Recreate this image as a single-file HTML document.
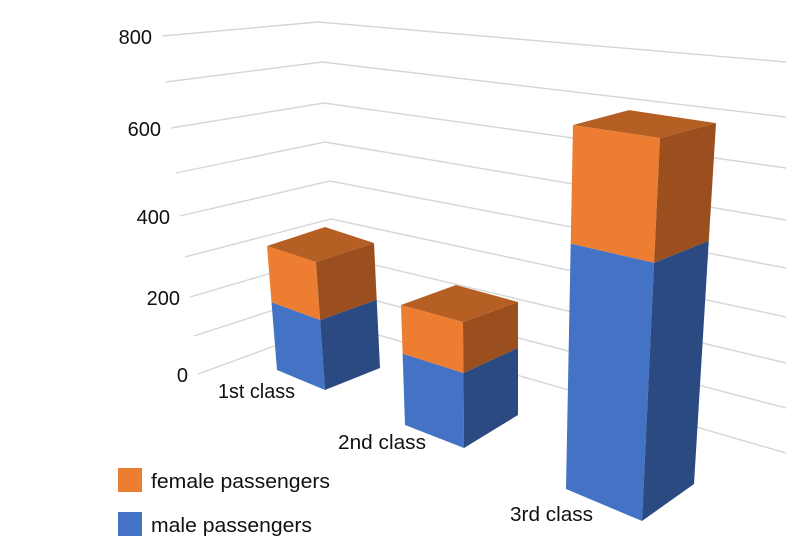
<!DOCTYPE html>
<html><head><meta charset="utf-8"><style>
html,body{margin:0;padding:0;background:#fff;}
svg{display:block;font-family:"Liberation Sans",sans-serif;}
</style></head><body>
<svg id="chart" width="786" height="552" viewBox="0 0 786 552" xmlns="http://www.w3.org/2000/svg">
<g id="grid"></g>
<g id="ylabels"></g>
<g id="bars"></g>
<g id="xlabels"></g>
<g>
<rect x="118" y="468" width="24" height="24" fill="#ED7D31"/>
<text x="151" y="488" font-size="20" fill="#111" textLength="179" lengthAdjust="spacingAndGlyphs">female passengers</text>
<rect x="118" y="512" width="24" height="24" fill="#4472C4"/>
<text x="151" y="532" font-size="20" fill="#111" textLength="161" lengthAdjust="spacingAndGlyphs">male passengers</text>
</g>
</svg>
<script>
const categories = ["1st class", "2nd class", "3rd class"];
const maleValues = [175, 163, 478];
const femaleValues = [145, 111, 231];
const tickValues = [0, 100, 200, 300, 400, 500, 600, 700, 800];
const tickLabels = ["0", "", "200", "", "400", "", "600", "", "800"];

const NS = "http://www.w3.org/2000/svg";
// geometry for the perspective axis (tick index -> wall points)
const gridLeftX = [198,194,190,185,180,176,171,166,162];
const gridLeftY = [374,336,297,257,216,173,128,82,36];
const gridCornerX = [337,335,333,331,330,325,324,322,318];
const gridCornerY = [323,290,255,219,181,142,103,62,22];
const gridRightY = [453,408,363,317,268,220,168,117,62];
function tickIndex(v){ return tickValues.indexOf(v); }

const grid = document.getElementById('grid');
const ylab = document.getElementById('ylabels');
tickValues.forEach(v => {
  const i = tickIndex(v);
  const pl = document.createElementNS(NS,'polyline');
  
  
  pl.setAttribute('points', `${gridLeftX[i]},${gridLeftY[i]} ${gridCornerX[i]},${gridCornerY[i]} 786,${gridRightY[i]}`);
  pl.setAttribute('fill','none'); pl.setAttribute('stroke','#d6d6d6'); pl.setAttribute('stroke-width','1.4');
  grid.appendChild(pl);
  if (tickLabels[i]) {
    const t = document.createElementNS(NS,'text');
    
    
    t.setAttribute('x', gridLeftX[i] - 10); t.setAttribute('y', gridLeftY[i] + 8);
    t.setAttribute('text-anchor','end'); t.setAttribute('font-size','20'); t.setAttribute('fill','#111');
    t.textContent = tickLabels[i];
    ylab.appendChild(t);
  }
});

// bar geometry: for each edge (front-left, front-right, back-right): base point and per-unit vector
const barEdges = [
  {fl:[277,370,-0.03125,-0.3875], fr:[325,390,-0.0281,-0.4], br:[380,368,-0.01875,-0.3906]},
  {fl:[405,425,-0.0146,-0.438], fr:[464,448,-0.00365,-0.46], br:[518,415,0,-0.4124]},
  {fl:[566,489,0.00987,-0.5134], fr:[642,521,0.02539,-0.5402], br:[694,484,0.031,-0.509]}
];
function edgePt(e, v){ return [e[0]+e[2]*v, e[1]+e[3]*v]; }
function pts(a){ return a.map(p=>p[0].toFixed(1)+','+p[1].toFixed(1)).join(' '); }
const barsG = document.getElementById('bars');
function poly(name, p, fill){
  const el = document.createElementNS(NS,'polygon');
  
  
  el.setAttribute('points', pts(p)); el.setAttribute('fill', fill);
  barsG.appendChild(el);
}
const xlabPos = [[218,398,77],[338,449,88],[510,521,83]];
categories.forEach((c, i) => {
  const g = barEdges[i];
  const m = maleValues[i], tot = maleValues[i] + femaleValues[i];
  const fl0 = edgePt(g.fl,0), fr0 = edgePt(g.fr,0), br0 = edgePt(g.br,0);
  const fl1 = edgePt(g.fl,m), fr1 = edgePt(g.fr,m), br1 = edgePt(g.br,m);
  const fl2 = edgePt(g.fl,tot), fr2 = edgePt(g.fr,tot), br2 = edgePt(g.br,tot);
  const bk2 = [fl2[0]+br2[0]-fr2[0], fl2[1]+br2[1]-fr2[1]];
  poly('bar-male-front-' + (i+1), [fl0, fr0, fr1, fl1], '#4472C4');
  poly('bar-male-side-' + (i+1), [fr0, br0, br1, fr1], '#2C4A82');
  poly('bar-female-front-' + (i+1), [fl1, fr1, fr2, fl2], '#ED7D31');
  poly('bar-female-side-' + (i+1), [fr1, br1, br2, fr2], '#9B4F1E');
  poly('bar-female-top-' + (i+1), [fl2, fr2, br2, bk2], '#B65F24');
  const t = document.createElementNS(NS,'text');
  
  
  t.setAttribute('x', xlabPos[i][0]); t.setAttribute('y', xlabPos[i][1]);
  t.setAttribute('font-size','20'); t.setAttribute('fill','#111');
  t.setAttribute('textLength', xlabPos[i][2]); t.setAttribute('lengthAdjust','spacingAndGlyphs');
  t.textContent = c;
  document.getElementById('xlabels').appendChild(t);
});
</script>
</body></html>
